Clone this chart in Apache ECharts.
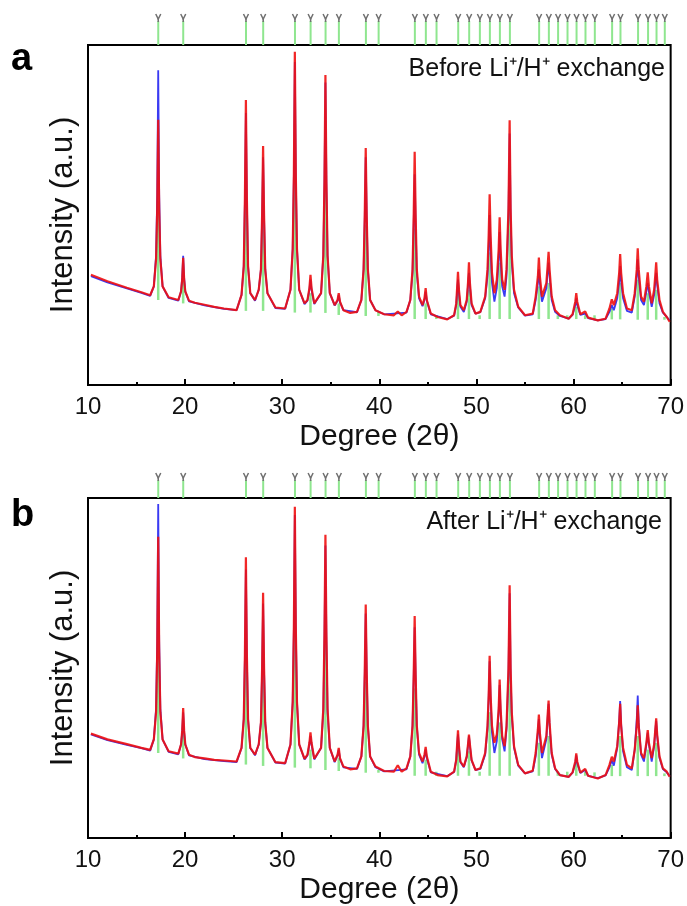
<!DOCTYPE html>
<html>
<head>
<meta charset="utf-8">
<script src="https://cdn.jsdelivr.net/npm/echarts@6/dist/echarts.min.js"></script>
<style>
  html, body { margin: 0; padding: 0; background: #fff; }
  #chart { width: 687px; height: 906px; }
</style>
</head>
<body>
<div id="chart"></div>
<script>
// reference reflection positions (2θ), same for both patterns
const refPos = [17.23, 19.80, 26.26, 28.03, 31.30, 32.91, 34.45, 35.82, 38.60, 39.91,
  43.64, 44.77, 45.87, 48.10, 49.23, 50.33, 51.36, 52.39, 53.42, 56.43,
  57.43, 58.38, 59.35, 60.28, 61.20, 62.16, 63.94, 64.80, 66.61, 67.64, 68.51, 69.36]

// green stick bottom / top, panel a
const stickLowA = [25, 24, 21.8, 21.8, 21.3, 21.3, 21.2, 20.6, 20.3, 20.3,
  19.4, 19.4, 19.4, 19.4, 19.4, 19.4, 19.4, 19.4, 19.4, 19.4,
  19.4, 19.4, 19.4, 19.4, 19.4, 19.3, 19.3, 19.3, 19.2, 19.2, 19.2, 19.2]
const stickTopA = [54, 31, 56, 48, 63, 27, 60, 24, 47, 21.5,
  46, 24, 20.5, 27, 28, 20.5, 39, 36, 52, 29,
  30, 20.5, 20.5, 23, 20.5, 20.5, 22.5, 30, 31, 27, 28, 20]

// green stick bottom / top, panel b
const stickLowB = [25, 23.4, 21.6, 21.2, 20.7, 20.5, 20, 19.7, 19.2, 19.2,
  18.3, 18.3, 18.3, 18.3, 18.3, 18.3, 18.3, 18.3, 18.3, 18.3,
  18.3, 18.3, 18.3, 18.3, 18.3, 18.2, 18.2, 18.2, 18.2, 18.2, 18.2, 18.2]
const stickTopB = [60, 31, 55, 49, 62, 26, 58, 23.5, 46, 20,
  44, 23, 19.5, 26, 25.5, 19.5, 37, 34, 49, 28,
  30, 19.5, 19.5, 22, 19.5, 19.3, 21.5, 30, 30, 26, 28, 19]

// observed (red) and calculated (blue) profiles, [2θ, intensity]
const obsA = [[10.3,32.4],[12,30.5],[14,28.6],[15.5,27.3],[16.4,26.4],
  [16.78,29],[17.01,37],[17.13,52],[17.23,78],[17.33,52],[17.45,37],[17.68,29],
  [18.3,25.8],[19.3,25],[19.58,27.5],[19.7,31],[19.8,37.4],[19.9,31],[20.02,27.5],[20.4,24.8],
  [21,24.2],[22,23.6],[23,23],[24,22.5],[25.3,22],
  [25.81,26.5],[26.04,35],[26.16,55],[26.26,83.8],[26.36,55],[26.48,35],[26.71,27],
  [27.2,25],[27.58,28],[27.81,34],[27.93,50],[28.03,70.3],[28.13,50],[28.25,34],[28.48,27],
  [29.3,22.8],[30.3,22.5],
  [30.85,28],[31.08,40],[31.2,62],[31.3,98],[31.4,62],[31.52,40],[31.75,28],
  [32.3,24],[32.6,25],[32.8,28.5],[32.91,32.4],[33.02,28.5],[33.3,24],
  [34.0,27],[34.23,38],[34.35,60],[34.45,91.2],[34.55,60],[34.67,38],[34.9,27],
  [35.4,23.5],[35.7,25],[35.82,27],[35.95,24.5],[36.3,22],[37,21.2],[37.7,21.5],
  [38.15,25],[38.38,34],[38.5,50],[38.6,69.7],[38.7,50],[38.82,34],[39.05,25],
  [39.6,22],[40.5,20.8],[41.5,20.5],[41.9,21.6],[42.3,20.5],[42.8,21.5],
  [43.19,25],[43.42,34],[43.54,50],[43.64,68.6],[43.74,50],[43.86,34],[44.09,26],
  [44.45,23.5],[44.65,25.5],[44.77,28.5],[44.89,25],[45.3,21],
  [46,20],[47,19.3],[47.7,20.5],[47.92,24],[48.0,28],[48.1,33.3],[48.2,28],[48.35,23.5],[48.7,22],
  [49.0,25],[49.13,30],[49.23,36.1],[49.33,30],[49.5,24],[49.9,21],
  [50.4,21.5],[50.9,26],[51.14,34],[51.26,44],[51.36,56.1],[51.46,44],[51.6,33],[51.85,27],
  [52.1,31],[52.29,40],[52.39,49.3],[52.49,40],[52.65,31],[52.9,28],
  [53.1,34],[53.3,52],[53.42,77.9],[53.52,52],[53.64,38],[53.87,28],[54.3,23],
  [55,20.5],[55.8,21],[56.1,26],[56.33,32],[56.43,37.5],[56.53,32],[56.75,26],[56.95,25.5],[57.2,30],[57.33,35],[57.43,39.2],[57.53,34],[57.75,26],[58.1,22],[58.6,20.5],
  [59.5,19.5],[59.9,20.8],[60.18,24.5],[60.28,27],[60.38,24.5],[60.7,20.8],[61.2,21.6],[61.5,19.8],[62.5,19],[63.3,19.5],
  [63.7,22.5],[63.94,25.2],[64.15,23.5],[64.5,27],[64.7,33],[64.8,38.5],[64.9,33],[65.1,27],[65.5,22.5],[66.0,22],[66.3,27],[66.51,34],[66.61,40.2],[66.71,34],[66.95,26],[67.25,24.5],[67.5,29],[67.64,33.1],[67.76,29],[68.05,24],[68.3,28],[68.41,32],[68.51,36.1],[68.61,31],[68.85,25],[69.2,21.5],[69.6,20],[69.9,18.6]]

const calcA = [[10.3,32],[12,30.2],[14,28.4],[15.5,27.1],[16.4,26.2],
  [16.78,29],[17.01,38],[17.13,56],[17.23,92.6],[17.33,56],[17.45,38],[17.68,29],
  [18.3,25.6],[19.3,24.8],[19.58,27.5],[19.7,31.5],[19.8,38],[19.9,31.5],[20.02,27.5],[20.4,24.6],
  [22,23.4],[24,22.4],[25.3,22],
  [25.81,26.5],[26.04,35],[26.16,54],[26.26,80],[26.36,54],[26.48,35],[26.71,27],
  [27.2,24.8],[27.58,28],[27.81,34],[27.93,49],[28.03,67],[28.13,49],[28.25,34],[28.48,27],
  [29.3,22.6],[30.3,22.4],
  [30.85,28],[31.08,40],[31.2,61],[31.3,95],[31.4,61],[31.52,40],[31.75,28],
  [32.3,23.8],[32.6,24.8],[32.8,28],[32.91,31],[33.02,28],[33.3,23.8],
  [34.0,27],[34.23,38],[34.35,59],[34.45,89],[34.55,59],[34.67,38],[34.9,27],
  [35.4,23.4],[35.7,24.8],[35.82,26.5],[35.95,24.3],[36.3,22],[37.7,21.4],
  [38.15,25],[38.38,34],[38.5,49],[38.6,67],[38.7,49],[38.82,34],[39.05,25],
  [39.6,22],[40.5,20.8],[42.8,21.3],
  [43.19,25],[43.42,33],[43.54,47],[43.64,62],[43.74,47],[43.86,33],[44.09,25.5],
  [44.45,23.2],[44.65,25],[44.77,27.5],[44.89,24.8],[45.3,20.8],
  [47,19.4],[47.7,20.4],[47.92,23.5],[48.0,27],[48.1,31],[48.2,27],[48.35,23],[48.7,21.5],
  [49.0,24.5],[49.13,29],[49.23,33],[49.33,29],[49.5,23.5],[49.9,21],
  [50.4,21.4],[50.9,25.5],[51.14,32],[51.26,40],[51.36,50],[51.46,40],[51.6,30],[51.85,24.5],
  [52.1,28.5],[52.29,37],[52.39,45],[52.49,37],[52.65,29],[52.9,26],
  [53.1,32],[53.3,50],[53.42,74],[53.52,50],[53.64,36],[53.87,27],[54.3,22.8],
  [55,20.4],[55.8,20.8],[56.1,25],[56.33,30],[56.43,34],[56.53,30],[56.75,24.5],[56.95,24],[57.2,28.5],[57.33,33],[57.43,36],[57.53,32],[57.75,25],[58.1,21.5],[58.6,20.3],
  [59.5,19.5],[59.9,20.6],[60.18,23.5],[60.28,25.5],[60.38,23.5],[60.7,20.6],[61.2,21],[61.5,19.7],[62.5,19],[63.3,19.4],
  [63.7,21.5],[63.94,23.5],[64.15,22],[64.5,25.5],[64.7,30.5],[64.8,35],[64.9,30.5],[65.1,25.5],[65.5,21.8],[66.0,21.3],[66.3,26],[66.51,32],[66.61,37],[66.71,32],[66.95,25],[67.25,23.5],[67.5,27.5],[67.64,30],[67.76,27.5],[68.05,23],[68.3,26.5],[68.41,30],[68.51,33],[68.61,29.5],[68.85,24],[69.2,21.3],[69.6,20],[69.9,19]]

const obsB = [[10.3,30.7],[12,29],[14,27.6],[15.5,26.5],[16.4,25.9],
  [16.78,29],[17.01,37],[17.13,55],[17.23,88.6],[17.33,55],[17.45,37],[17.68,29],
  [18.3,25.5],[19.3,24.8],[19.58,27.5],[19.7,31.5],[19.8,38.2],[19.9,31.5],[20.02,27.5],[20.4,24.5],
  [21,23.8],[22,23.4],[23,23],[24,22.8],[25.3,22.5],
  [25.81,26.5],[26.04,35],[26.16,54],[26.26,82.6],[26.36,54],[26.48,35],[26.71,26.5],
  [27.2,24.5],[27.58,27.5],[27.81,34],[27.93,50],[28.03,72.1],[28.13,50],[28.25,34],[28.48,26.5],
  [29.3,22.3],[30.3,22],
  [30.85,27.5],[31.08,40],[31.2,62],[31.3,97.4],[31.4,62],[31.52,40],[31.75,27.5],
  [32.3,23.3],[32.6,24.5],[32.8,28],[32.91,31.1],[33.02,28],[33.3,23.3],
  [34.0,26.5],[34.23,38],[34.35,60],[34.45,89.2],[34.55,60],[34.67,38],[34.9,26.5],
  [35.4,22.5],[35.7,24.5],[35.82,26.5],[35.95,23.5],[36.3,21],[37,20.2],[37.7,20.5],
  [38.15,24],[38.38,33],[38.5,49],[38.6,68.7],[38.7,49],[38.82,33],[39.05,24],
  [39.6,21],[40.5,19.7],[41.5,19.5],[41.9,21.4],[42.3,19.5],[42.8,20.5],
  [43.19,24],[43.42,33],[43.54,48],[43.64,65.3],[43.74,48],[43.86,33],[44.09,25],
  [44.45,22.5],[44.65,24.5],[44.77,26.8],[44.89,24],[45.3,19.5],
  [46,18.5],[47,18.1],[47.7,19.5],[47.92,23],[48.0,27],[48.1,31.7],[48.2,27],[48.35,22.5],[48.7,21],
  [49.0,24],[49.13,27.5],[49.23,30.4],[49.33,27.5],[49.5,23],[49.9,20],
  [50.4,20.5],[50.9,25],[51.14,33],[51.26,42],[51.36,53.6],[51.46,42],[51.6,33],[51.85,28],
  [52.1,30.5],[52.29,38],[52.39,46.6],[52.49,38],[52.65,30],[52.9,27],
  [53.1,33],[53.3,50],[53.42,74.3],[53.52,50],[53.64,37],[53.87,27],[54.3,21.5],
  [55,19],[55.8,19.8],[56.1,25],[56.33,32],[56.43,36.3],[56.53,31],[56.75,25],[56.95,24.5],[57.2,30],[57.33,36],[57.43,40.4],[57.53,34],[57.75,25],[58.1,20.5],[58.6,18.5],
  [59.5,18],[59.9,19.3],[60.18,22.5],[60.28,24.9],[60.38,22.5],[60.7,19.2],[61.2,20.3],[61.5,18.3],[62.5,17.5],[63.3,18.5],
  [63.7,21.5],[63.94,23.9],[64.15,22.5],[64.5,27],[64.7,34],[64.8,39.5],[64.9,33],[65.1,26.5],[65.5,21.5],[66.0,20.5],[66.3,26],[66.51,33],[66.61,39],[66.71,33],[66.95,25],[67.25,23.5],[67.5,28],[67.64,31.7],[67.76,28],[68.05,23.5],[68.3,27.5],[68.41,31.5],[68.51,35.2],[68.61,30.5],[68.85,24],[69.2,20.5],[69.6,19.5],[69.9,18]]

const calcB = [[10.3,30.5],[12,28.8],[14,27.4],[15.5,26.4],[16.4,25.7],
  [16.78,29],[17.01,38],[17.13,58],[17.23,98.2],[17.33,58],[17.45,38],[17.68,29],
  [18.3,25.3],[19.3,24.6],[19.58,27.5],[19.7,31],[19.8,37],[19.9,31],[20.02,27.5],[20.4,24.3],
  [22,23.2],[24,22.6],[25.3,22.3],
  [25.81,26.5],[26.04,35],[26.16,53],[26.26,79],[26.36,53],[26.48,35],[26.71,26.5],
  [27.2,24.3],[27.58,27.5],[27.81,34],[27.93,49],[28.03,69],[28.13,49],[28.25,34],[28.48,26.5],
  [29.3,22.2],[30.3,21.9],
  [30.85,27.5],[31.08,40],[31.2,61],[31.3,95],[31.4,61],[31.52,40],[31.75,27.5],
  [32.3,23.1],[32.6,24.3],[32.8,27.5],[32.91,30],[33.02,27.5],[33.3,23.1],
  [34.0,26.5],[34.23,37],[34.35,58],[34.45,86],[34.55,58],[34.67,37],[34.9,26.5],
  [35.4,22.3],[35.7,24.3],[35.82,26],[35.95,23.3],[36.3,20.8],[37.7,20.3],
  [38.15,24],[38.38,33],[38.5,48],[38.6,66],[38.7,48],[38.82,33],[39.05,24],
  [39.6,20.8],[40.5,19.6],[42.8,20.2],
  [43.19,24],[43.42,33],[43.54,47],[43.64,62],[43.74,47],[43.86,33],[44.09,24.5],
  [44.45,22],[44.65,24],[44.77,26],[44.89,23.5],[45.3,19.3],
  [47,18.2],[47.7,19.4],[47.92,23],[48.0,26.5],[48.1,30.5],[48.2,26.5],[48.35,22.3],[48.7,20.8],
  [49.0,23.8],[49.13,27],[49.23,30],[49.33,27],[49.5,22.8],[49.9,20],
  [50.4,20.3],[50.9,24.5],[51.14,32],[51.26,41],[51.36,52],[51.46,41],[51.6,31],[51.85,25],
  [52.1,28.5],[52.29,37],[52.39,45],[52.49,37],[52.65,29],[52.9,25.5],
  [53.1,32],[53.3,48],[53.42,72],[53.52,48],[53.64,36],[53.87,26.5],[54.3,21.3],
  [55,19],[55.8,19.6],[56.1,24],[56.33,31],[56.43,35],[56.53,30],[56.75,23.5],[56.95,23],[57.2,29],[57.33,35],[57.43,39.5],[57.53,33],[57.75,24.5],[58.1,20.3],[58.6,18.5],
  [59.5,18],[59.9,19.2],[60.18,22],[60.28,24.3],[60.38,22],[60.7,19.1],[61.2,20],[61.5,18.3],[62.5,17.6],[63.3,18.4],
  [63.7,20.8],[63.94,22.8],[64.15,21.3],[64.5,26.5],[64.7,34.5],[64.8,40.3],[64.9,33.5],[65.1,25.5],[65.5,20.8],[66.0,20],[66.3,26],[66.51,35],[66.61,41.9],[66.71,34],[66.95,24.5],[67.25,22.5],[67.5,27.5],[67.64,31],[67.76,27.5],[68.05,22.5],[68.3,27],[68.41,31],[68.51,34.5],[68.61,30],[68.85,23.5],[69.2,20.3],[69.6,19.3],[69.9,18.2]]

const xTicks = { min: 10, max: 70, interval: 10 }
const labelA = 'Before Li\u207A/H\u207A exchange'
const labelB = 'After Li\u207A/H\u207A exchange'

const FONT = '"Liberation Sans", Arial, sans-serif'
const RED = 'rgba(240,16,16,0.9)'
const BLUE = '#3a3af2'
const GREEN = '#8fe68f'

const chart = echarts.init(document.getElementById('chart'))

// main plot rects and tick-marker bands
const panels = [
  { top: 45, height: 340, bandTop: 14, bandH: 31 },
  { top: 498, height: 342, bandTop: 473, bandH: 25 }
]

const mainXAxis = (gridIndex) => ({
  type: 'value', gridIndex,
  min: xTicks.min, max: xTicks.max, interval: xTicks.interval,
  axisLine: { show: true, onZero: false, lineStyle: { color: '#000', width: 2 } },
  axisTick: { show: true, inside: true, length: 6, lineStyle: { color: '#000', width: 2 } },
  minorTick: { show: true, splitNumber: 2, length: 3, lineStyle: { color: '#000', width: 2 } },
  splitLine: { show: false },
  axisLabel: { color: '#111', fontSize: 24, fontFamily: FONT, margin: 10 },
  name: 'Degree (2\u03B8)', nameLocation: 'middle', nameGap: 37,
  nameTextStyle: { color: '#111', fontSize: 30, fontFamily: FONT }
})

const mainYAxis = (gridIndex) => ({
  type: 'value', gridIndex, min: 0, max: 100,
  axisLine: { show: true, lineStyle: { color: '#000', width: 2 } },
  axisTick: { show: false }, axisLabel: { show: false }, splitLine: { show: false },
  name: 'Intensity (a.u.)', nameLocation: 'middle', nameGap: 9, nameRotate: 90,
  nameTextStyle: { color: '#111', fontSize: 31, fontFamily: FONT }
})

const bandXAxis = (gridIndex) => ({
  type: 'value', gridIndex, min: xTicks.min, max: xTicks.max, show: false
})
const bandYAxis = (gridIndex) => ({
  type: 'value', gridIndex, min: 0, max: 1, show: false
})

const stickSeries = (idx, lows, tops) => ({
  type: 'custom', xAxisIndex: idx, yAxisIndex: idx, z: 1, silent: true,
  data: refPos.map((p, i) => [p, lows[i], tops[i]]),
  encode: { x: 0, y: [1, 2] },
  renderItem: (params, api) => {
    const a = api.coord([api.value(0), api.value(1)])
    const b = api.coord([api.value(0), api.value(2)])
    return { type: 'line', shape: { x1: a[0], y1: a[1], x2: b[0], y2: b[1] },
      style: { stroke: GREEN, lineWidth: 2.5 } }
  }
})

const markerSeries = (idx) => ({
  type: 'custom', xAxisIndex: idx, yAxisIndex: idx, silent: true,
  data: refPos.map(p => [p, 0, 1]),
  encode: { x: 0, y: [1, 2] },
  renderItem: (params, api) => {
    const a = api.coord([api.value(0), api.value(1)])
    const b = api.coord([api.value(0), api.value(2)])
    const x = a[0], t = b[1]
    return { type: 'group', children: [
      { type: 'line', shape: { x1: x, y1: a[1], x2: x, y2: t + 7 }, style: { stroke: GREEN, lineWidth: 2 } },
      { type: 'polyline', shape: { points: [[x - 2.5, t], [x, t + 5], [x + 2.5, t]] },
        style: { stroke: '#707070', lineWidth: 1.5, fill: null } },
      { type: 'line', shape: { x1: x, y1: t + 4, x2: x, y2: t + 8 }, style: { stroke: '#707070', lineWidth: 1.5 } }
    ] }
  }
})

const lineSeries = (idx, data, color, width) => ({
  type: 'line', xAxisIndex: idx, yAxisIndex: idx, data,
  showSymbol: false, symbol: 'none', silent: true, z: 2,
  lineStyle: { color, width }
})

const option = {
  animation: false,
  backgroundColor: '#fff',
  grid: [
    { left: 88, right: 16, top: panels[0].top, height: panels[0].height, show: true, borderColor: '#000', borderWidth: 2 },
    { left: 88, right: 16, top: panels[1].top, height: panels[1].height, show: true, borderColor: '#000', borderWidth: 2 },
    { left: 88, right: 16, top: panels[0].bandTop, height: panels[0].bandH },
    { left: 88, right: 16, top: panels[1].bandTop, height: panels[1].bandH }
  ],
  xAxis: [mainXAxis(0), mainXAxis(1), bandXAxis(2), bandXAxis(3)],
  yAxis: [mainYAxis(0), mainYAxis(1), bandYAxis(2), bandYAxis(3)],
  graphic: [
    { type: 'text', x: 11, y: 41, style: { text: 'a', fontSize: 38, fontWeight: 'bold', fontFamily: FONT, fill: '#000', textBaseline: 'alphabetic' } },
    { type: 'text', x: 11, y: 497, style: { text: 'b', fontSize: 38, fontWeight: 'bold', fontFamily: FONT, fill: '#000', textBaseline: 'alphabetic' } },
    { type: 'text', right: 22, top: 57, style: { text: labelA, fontSize: 25, fontFamily: FONT, fill: '#111' } },
    { type: 'text', right: 25, top: 510, style: { text: labelB, fontSize: 25, fontFamily: FONT, fill: '#111' } }
  ],
  series: [
    stickSeries(0, stickLowA, stickTopA),
    stickSeries(1, stickLowB, stickTopB),
    lineSeries(0, calcA, BLUE, 1.8),
    lineSeries(0, obsA, RED, 2.2),
    lineSeries(1, calcB, BLUE, 1.8),
    lineSeries(1, obsB, RED, 2.2),
    markerSeries(2),
    markerSeries(3)
  ]
}

chart.setOption(option)
</script>
</body>
</html>
